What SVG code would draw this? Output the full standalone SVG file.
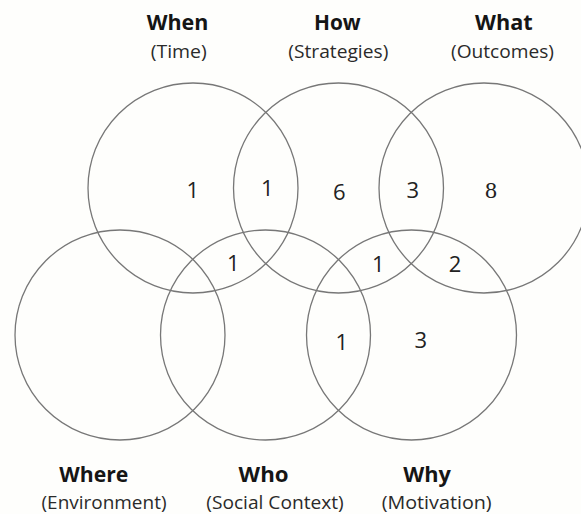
<svg xmlns="http://www.w3.org/2000/svg" width="581" height="514" viewBox="0 0 581 514">
<style>
.c{fill:none;stroke:#777;stroke-width:1.3}
.t{font-family:"Open Sans","Noto Sans",sans-serif;font-weight:bold;font-size:21.5px;fill:#151515;text-anchor:middle}
.s{font-family:"Open Sans","Noto Sans",sans-serif;font-size:19px;fill:#2a2a2a;text-anchor:middle}
.n{font-family:"Open Sans","Noto Sans",sans-serif;font-size:22px;fill:#222;text-anchor:middle}
.n8{font-family:"Liberation Serif","DejaVu Serif",serif;font-size:24px;fill:#222;text-anchor:middle}
</style>
<rect width="581" height="514" fill="#fefefc"/>
<g id="when">
<circle class="c" cx="193" cy="188" r="105"/>
<text class="t" x="177.5" y="29.5" textLength="61.7" lengthAdjust="spacingAndGlyphs">When</text>
<text class="s" x="178.7" y="57.5" textLength="56" lengthAdjust="spacingAndGlyphs">(Time)</text>
</g>
<g id="how">
<circle class="c" cx="338.5" cy="188" r="105"/>
<text class="t" x="337.3" y="29.5" textLength="46.7" lengthAdjust="spacingAndGlyphs">How</text>
<text class="s" x="338.3" y="57.5" textLength="100" lengthAdjust="spacingAndGlyphs">(Strategies)</text>
</g>
<g id="what">
<circle class="c" cx="484" cy="188" r="105"/>
<text class="t" x="503.8" y="29.5" textLength="57.7" lengthAdjust="spacingAndGlyphs">What</text>
<text class="s" x="502.5" y="57.5" textLength="103" lengthAdjust="spacingAndGlyphs">(Outcomes)</text>
</g>
<g id="where">
<circle class="c" cx="120" cy="335" r="105"/>
<text class="t" x="93.8" y="481.7" textLength="69" lengthAdjust="spacingAndGlyphs">Where</text>
<text class="s" x="104" y="508.5" textLength="125" lengthAdjust="spacingAndGlyphs">(Environment)</text>
</g>
<g id="who">
<circle class="c" cx="265.5" cy="335" r="105"/>
<text class="t" x="263.6" y="481.7" textLength="50" lengthAdjust="spacingAndGlyphs">Who</text>
<text class="s" x="275" y="508.5" textLength="137.5" lengthAdjust="spacingAndGlyphs">(Social Context)</text>
</g>
<g id="why">
<circle class="c" cx="411.5" cy="335" r="105"/>
<text class="t" x="427" y="481.7" textLength="47.7" lengthAdjust="spacingAndGlyphs">Why</text>
<text class="s" x="436.7" y="508.5" textLength="110" lengthAdjust="spacingAndGlyphs">(Motivation)</text>
</g>
<g id="counts">
<text class="n" x="192.7" y="198">1</text>
<text class="n" x="267.3" y="196">1</text>
<text class="n" x="339.3" y="199.5">6</text>
<text class="n" x="412.7" y="198">3</text>
<text class="n8" x="491" y="198">8</text>
<text class="n" x="233.3" y="271">1</text>
<text class="n" x="378.3" y="272">1</text>
<text class="n" x="455" y="272">2</text>
<text class="n" x="341.7" y="349.5">1</text>
<text class="n" x="420.7" y="348">3</text>
</g>
<g id="connectors"></g>
</svg>
